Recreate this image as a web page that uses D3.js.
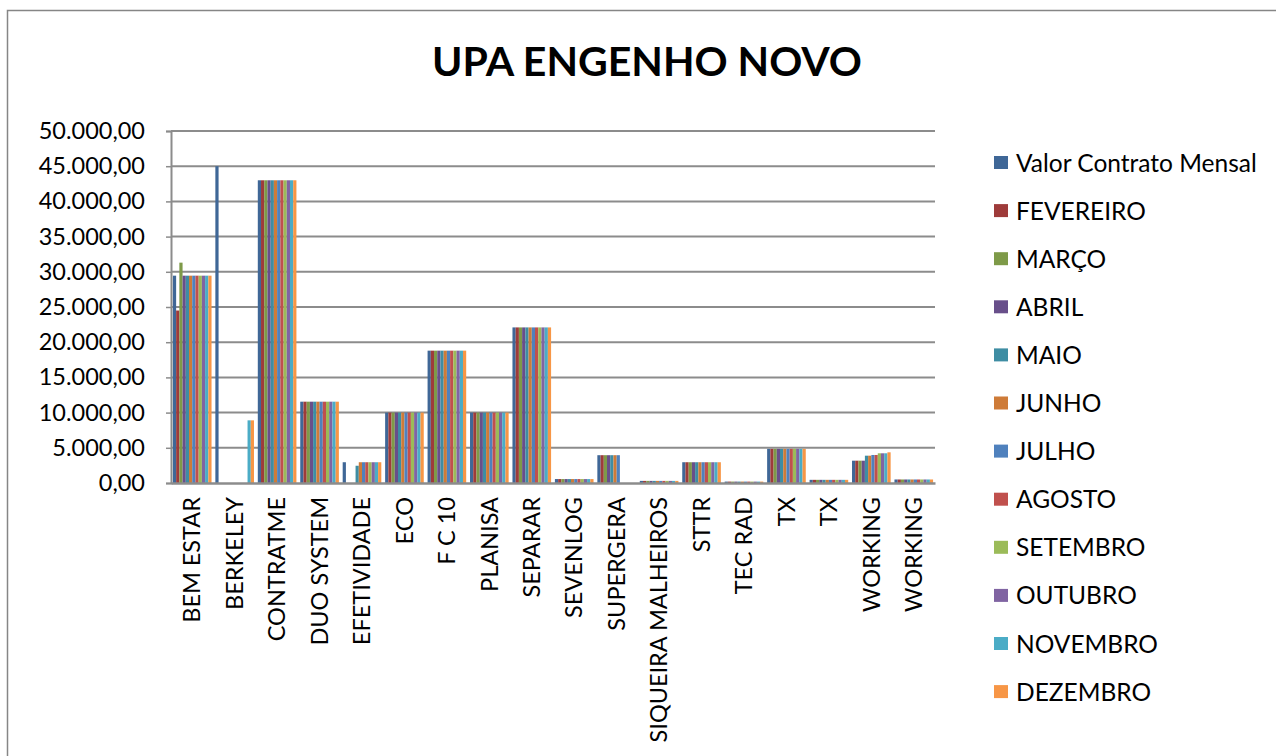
<!DOCTYPE html>
<html>
<head>
<meta charset="utf-8">
<script src="https://cdn.jsdelivr.net/npm/d3@7"></script>
<style>
  body { margin: 0; background: #fff; }
  text { font-family: Lato, "Open Sans", sans-serif; fill: #000; }
</style>
</head>
<body>
<div id="chart"></div>
<script>
// categories along the x axis (TX and WORKING appear twice)
const categories = ["BEM ESTAR", "BERKELEY", "CONTRATME", "DUO SYSTEM", "EFETIVIDADE", "ECO", "F C 10",
  "PLANISA", "SEPARAR", "SEVENLOG", "SUPERGERA", "SIQUEIRA MALHEIROS", "STTR", "TEC RAD", "TX", "TX",
  "WORKING", "WORKING"];

const seriesNames = ["Valor Contrato Mensal", "FEVEREIRO", "MARÇO", "ABRIL", "MAIO", "JUNHO", "JULHO",
  "AGOSTO", "SETEMBRO", "OUTUBRO", "NOVEMBRO", "DEZEMBRO"];

const seriesColors = ["#3f6797", "#9e3b3a", "#7e9a48", "#684f8a", "#3e8da3", "#ce7b38",
  "#4f81bd", "#c0504d", "#9bbb59", "#8064a2", "#4bacc6", "#f79646"];

// values per series, in category order
const valorContrato = [29450, 45000, 43000, 11550, 2950, 10000, 18800, 10000, 22100, 560, 3950, 300, 2950, 200, 4850, 450, 3170, 500];
const fevereiro     = [24500, 0, 43000, 11550, 0, 10000, 18800, 10000, 22100, 560, 3950, 300, 2950, 200, 4850, 450, 3170, 500];
const marco         = [31300, 0, 43000, 11550, 0, 10000, 18800, 10000, 22100, 560, 3950, 300, 2950, 200, 4850, 450, 3170, 500];
const abril         = [29450, 0, 43000, 11550, 0, 10000, 18800, 10000, 22100, 560, 3950, 300, 2950, 200, 4850, 450, 3170, 500];
const maio          = [29450, 0, 43000, 11550, 2450, 10000, 18800, 10000, 22100, 560, 3950, 300, 2950, 200, 4850, 450, 3880, 500];
const junho         = [29450, 0, 43000, 11550, 2950, 10000, 18800, 10000, 22100, 560, 3950, 300, 2950, 200, 4850, 450, 3880, 500];
const julho         = [29450, 0, 43000, 11550, 2950, 10000, 18800, 10000, 22100, 560, 3950, 300, 2950, 200, 4850, 450, 3980, 500];
const agosto        = [29450, 0, 43000, 11550, 2950, 10000, 18800, 10000, 22100, 560, 0, 300, 2950, 200, 4850, 450, 3980, 500];
const setembro      = [29450, 0, 43000, 11550, 2950, 10000, 18800, 10000, 22100, 560, 0, 300, 2950, 200, 4850, 450, 4220, 500];
const outubro       = [29450, 0, 43000, 11550, 2950, 10000, 18800, 10000, 22100, 560, 0, 300, 2950, 200, 4850, 450, 4220, 500];
const novembro      = [29450, 8900, 43000, 11550, 2950, 10000, 18800, 10000, 22100, 560, 0, 300, 2950, 200, 4850, 450, 4220, 500];
const dezembro      = [29450, 8900, 43000, 11550, 2950, 10000, 18800, 10000, 22100, 560, 0, 300, 2950, 200, 4850, 450, 4360, 500];

const seriesValues = [valorContrato, fevereiro, marco, abril, maio, junho, julho,
  agosto, setembro, outubro, novembro, dezembro];

const yTicks = [0, 5000, 10000, 15000, 20000, 25000, 30000, 35000, 40000, 45000, 50000];

const width = 1276, height = 756;
const plot = { left: 171, right: 935, top: 131, bottom: 483 };

const svg = d3.select("#chart").append("svg")
  .attr("width", width)
  .attr("height", height);

// outer chart border
svg.append("rect")
  .attr("x", 7.5).attr("y", 10.5)
  .attr("width", width + 10).attr("height", height + 10)
  .attr("fill", "none")
  .attr("stroke", "#868686")
  .attr("stroke-width", 1.5);

svg.append("text")
  .attr("x", 647).attr("y", 76)
  .attr("text-anchor", "middle")
  .style("font-size", "41px")
  .style("font-weight", "bold")
  .text("UPA ENGENHO NOVO");

const locale = d3.formatLocale({ decimal: ",", thousands: ".", grouping: [3], currency: ["", ""] });
const fmt = locale.format(",.2f");

const y = d3.scaleLinear().domain([0, 50000]).range([plot.bottom, plot.top]);

const x0 = d3.scaleBand()
  .domain(d3.range(categories.length))
  .range([plot.left, plot.right])
  .paddingInner(0.09)
  .paddingOuter(0.045);

const x1 = d3.scaleBand()
  .domain(d3.range(seriesNames.length))
  .range([0, x0.bandwidth()]);

// gridlines
svg.append("g")
  .selectAll("line")
  .data(yTicks.filter(d => d > 0))
  .join("line")
  .attr("x1", plot.left).attr("x2", plot.right)
  .attr("y1", d => y(d)).attr("y2", d => y(d))
  .attr("stroke", "#8c8c8c")
  .attr("stroke-width", 2);

// y axis
const yAxis = svg.append("g")
  .attr("transform", `translate(${plot.left},0)`)
  .call(d3.axisLeft(y).tickValues(yTicks).tickFormat(fmt).tickSize(5).tickPadding(21));
yAxis.select(".domain").attr("stroke", "#8c8c8c").attr("stroke-width", 2);
yAxis.selectAll(".tick line").attr("stroke", "#8c8c8c").attr("stroke-width", 1.5);
yAxis.selectAll(".tick text")
  .style("font-size", "23.5px")
  .style("font-family", "Lato, sans-serif")
  .attr("fill", "#000");

// bars
const groups = svg.append("g")
  .selectAll("g")
  .data(categories.map((c, i) => i))
  .join("g")
  .attr("transform", i => `translate(${x0(i)},0)`);

groups.selectAll("rect")
  .data(i => seriesValues.map((vals, s) => ({ s: s, v: vals[i] })))
  .join("rect")
  .attr("x", d => x1(d.s))
  .attr("y", d => y(d.v))
  .attr("width", x1.bandwidth())
  .attr("height", d => y(0) - y(d.v))
  .attr("fill", d => seriesColors[d.s]);

// x axis
const xAxis = svg.append("g")
  .attr("transform", `translate(0,${plot.bottom})`)
  .call(d3.axisBottom(d3.scaleBand().domain(d3.range(categories.length)).range([plot.left, plot.right]))
    .tickSize(0).tickPadding(14).tickFormat(i => categories[i]));
xAxis.select(".domain").attr("stroke", "#8c8c8c").attr("stroke-width", 2.5);
xAxis.selectAll(".tick text")
  .style("font-size", "23.5px")
  .style("font-family", "Lato, sans-serif")
  .attr("fill", "#000")
  .attr("text-anchor", "end")
  .attr("dy", "0.35em")
  .attr("transform", "rotate(-90)")
  .attr("x", -14)
  .attr("y", 0);

// legend
const legend = svg.append("g")
  .selectAll("g")
  .data(seriesNames)
  .join("g")
  .attr("transform", (d, i) => `translate(994,${163 + i * 48.1})`);

legend.append("rect")
  .attr("x", 0).attr("y", -7)
  .attr("width", 14).attr("height", 13)
  .attr("fill", (d, i) => seriesColors[i]);

legend.append("text")
  .attr("x", 22).attr("y", 0)
  .attr("dy", "0.35em")
  .style("font-size", "24.5px")
  .text(d => d);
</script>
</body>
</html>
